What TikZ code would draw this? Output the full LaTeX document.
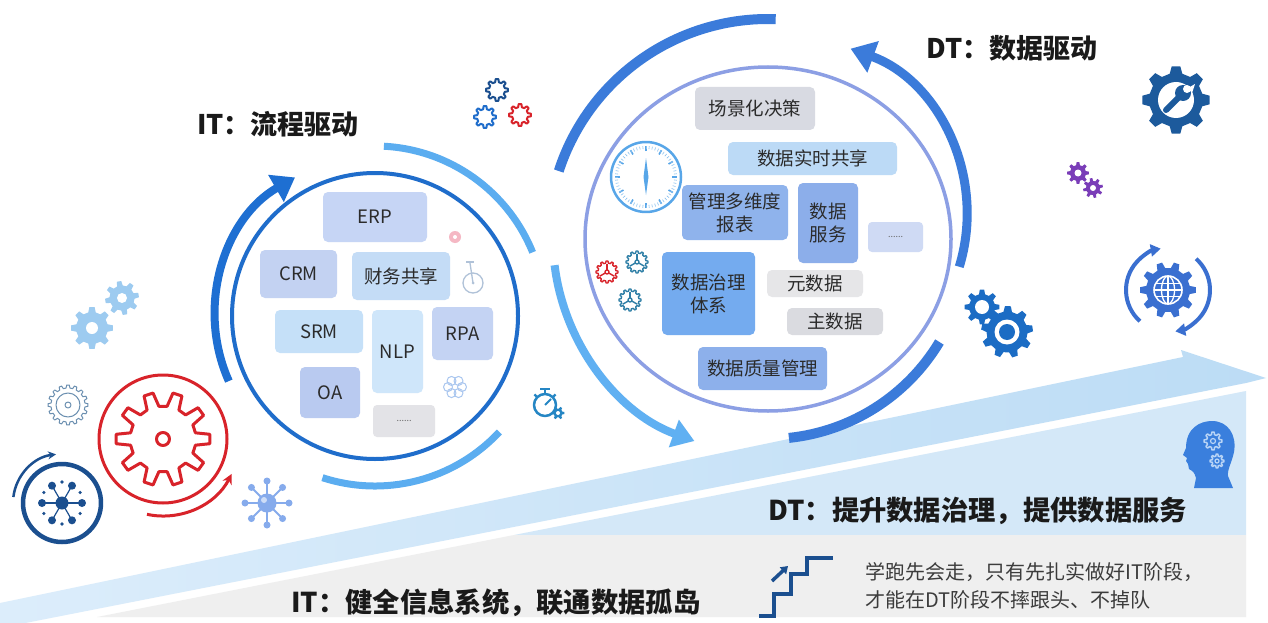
\documentclass[tikz,border=0pt]{standalone}
\usepackage{fontspec}
\newfontfamily\cjk{Noto Sans CJK SC}
\usetikzlibrary{arrows.meta}

\definecolor{bandleft}{HTML}{DCEDFB}
\definecolor{bandright}{HTML}{BCDCF5}
\definecolor{dtpanel}{HTML}{D4E8F8}
\definecolor{panelgray}{HTML}{EFEFEF}
\definecolor{itring}{HTML}{1F6DCB}
\definecolor{itarrow}{HTML}{1E6FD2}
\definecolor{itlight}{HTML}{5BADF0}
\definecolor{dtring}{HTML}{8C9FE4}
\definecolor{dtarc}{HTML}{3B7BDA}
\definecolor{dtlight}{HTML}{60B0F2}
\definecolor{txt}{HTML}{1A1A1A}
\definecolor{boxtxt}{HTML}{2B2B2B}
\definecolor{notetxt}{HTML}{3C3C3C}
\definecolor{gearred}{HTML}{D8232A}
\definecolor{navy}{HTML}{1B4F8F}
\definecolor{steelgray}{HTML}{6B8FB0}
\definecolor{paleblue}{HTML}{9DCBF0}
\definecolor{netblue}{HTML}{86ABEC}
\definecolor{purplegear}{HTML}{7A3DB8}
\definecolor{wrenchnavy}{HTML}{1C5A9C}
\definecolor{globeblue}{HTML}{3A6FD0}
\definecolor{gearblue}{HTML}{1B6CC4}
\definecolor{headblue}{HTML}{3A7FDD}
\definecolor{headgear}{HTML}{B8D4F6}
\definecolor{clockblue}{HTML}{58A6E8}
\definecolor{tealgear}{HTML}{2F7FA6}
\definecolor{watchteal}{HTML}{2586C4}
\definecolor{pinkdot}{HTML}{F5B8C4}
\definecolor{iconpale}{HTML}{A9C6EF}
\definecolor{unigray}{HTML}{B0C2D8}
% box fills
\definecolor{bErp}{HTML}{C6D5F5}
\definecolor{bCrm}{HTML}{C3D2F2}
\definecolor{bFin}{HTML}{C4DCF6}
\definecolor{bSrm}{HTML}{C5E0F8}
\definecolor{bNlp}{HTML}{CFE6FA}
\definecolor{bRpa}{HTML}{C4D3F3}
\definecolor{bOa}{HTML}{B9CAF0}
\definecolor{bMore}{HTML}{E3E3E7}
\definecolor{bScene}{HTML}{D8DAE2}
\definecolor{bShare}{HTML}{BCDAF6}
\definecolor{bReport}{HTML}{8FB3EC}
\definecolor{bService}{HTML}{8CAEEA}
\definecolor{bMoreR}{HTML}{CFDAF4}
\definecolor{bGov}{HTML}{74ABEF}
\definecolor{bMeta}{HTML}{E6E6E8}
\definecolor{bMaster}{HTML}{DADBE0}
\definecolor{bQuality}{HTML}{8DB0EB}

\tikzset{
  % gear outline: teeth, root radius, tip radius
  pics/gear/.style n args={3}{code={
    \pgfmathsetmacro\gp{360/#1}
    \path[pic actions] ({-0.3*\gp}:#2)
      \foreach \k in {1,...,#1}{
        -- ({(\k-1)*\gp-0.3*\gp}:#2) -- ({(\k-1)*\gp-0.16*\gp}:#3)
        -- ({(\k-1)*\gp+0.16*\gp}:#3) -- ({(\k-1)*\gp+0.3*\gp}:#2)
      } -- cycle;
  }},
  box/.style={rounded corners=5pt, inner sep=0pt, text=boxtxt,
    font=\cjk\fontsize{18.5}{23}\selectfont, align=center},
  dots/.style={rounded corners=4pt, inner sep=0pt, text=black!60,
    font=\cjk\fontsize{9}{10}\selectfont},
  title/.style={inner sep=0pt, text=txt, font=\cjk\bfseries\fontsize{27}{30}\selectfont},
  banner/.style={inner sep=0pt, text=txt, font=\cjk\bfseries\fontsize{27.3}{30}\selectfont},
  note/.style={inner sep=0pt, text=notetxt, align=left, font=\cjk\fontsize{20}{28}\selectfont},
}

\begin{document}
\begin{tikzpicture}[x=1pt,y=1pt,line join=round]
\useasboundingbox (0,0) rectangle (1268,-623);
\fill[white] (0,0) rectangle (1268,-623);

% ---------- lower panels and rising band ----------
\fill[dtpanel] (514,-535) -- (1246,-391) -- (1246,-535) -- cycle;
\fill[panelgray] (514,-535) -- (1246,-535) -- (1246,-617) -- (97,-617) -- cycle;
\begin{scope}
  \clip (0,0) rectangle (1268,-623);
  \shade[left color=bandleft, right color=bandright]
     (0,-603) -- (1183,-357) -- (1181,-350) -- (1266,-378)
     -- (1246,-383) -- (0,-628) -- cycle;
\end{scope}

% ---------- IT cycle ----------
\coordinate (itc) at (375,-316);
\draw[itring, line width=4pt] (itc) circle (143);
\draw[itarrow, line width=8pt, -{Triangle[length=22pt,width=30pt]}]
  (itc) ++(204:160) arc[start angle=204, end angle=120, radius=160];
\draw[itlight, line width=7pt] (itc) ++(87:170) arc[start angle=87, end angle=22, radius=170];
\draw[itlight, line width=7pt] (itc) ++(252:170) arc[start angle=252, end angle=317, radius=170];

\node[box, fill=bErp, minimum width=104pt, minimum height=50pt] (erp) at (375,-217) {ERP};
\node[box, fill=bCrm, minimum width=77pt, minimum height=48pt] (crm) at (298.5,-274) {CRM};
\node[box, fill=bFin, minimum width=98pt, minimum height=48pt] (fin) at (401,-276) {财务共享};
\node[box, fill=bSrm, minimum width=88pt, minimum height=43pt] (srm) at (319,-331.5) {SRM};
\node[box, fill=bNlp, minimum width=51pt, minimum height=83pt] (nlp) at (397.5,-351.5) {NLP};
\node[box, fill=bRpa, minimum width=61pt, minimum height=53pt] (rpa) at (462.5,-333.5) {RPA};
\node[box, fill=bOa, minimum width=60pt, minimum height=51pt] (oa) at (330,-392.5) {OA};
\node[dots, fill=bMore, minimum width=62pt, minimum height=32pt] (itmore) at (404,-421) {......};

% small icons inside the IT ring
\fill[pinkdot] (455,-237) circle (6);
\fill[white] (455,-237) circle (2);
\draw[unigray, line width=1.3pt] (473,-283) circle (10);
\draw[unigray, line width=1.3pt] (470,-263) -- (473,-283);
\draw[unigray, line width=1.3pt] (466,-262) -- (474,-262);
\fill[unigray] (473,-283) circle (1.5);
\foreach \a in {0,60,...,300}
  \draw[iconpale, line width=1pt] (455,-387) ++(\a:7) circle (4.5);

% stopwatch with gear
\draw[watchteal, line width=2.5pt] (545,-405) circle (11);
\draw[watchteal, line width=2.5pt] (545,-394) -- (545,-390);
\draw[watchteal, line width=2.5pt] (540,-389) -- (550,-389);
\draw[watchteal, line width=2.2pt] (545,-405) ++(135:11) -- ++(135:4);
\draw[watchteal, line width=2.2pt] (545,-405) ++(45:11) -- ++(45:4);
\draw[watchteal, line width=2pt] (545,-405) -- (551,-399);
\pic[fill=watchteal] at (558,-413) {gear={6}{4.5}{6.5}};
\fill[white] (558,-413) circle (2);

% ---------- DT cycle ----------
\coordinate (dtc) at (768,-239);
\draw[dtring, line width=3.5pt] (dtc) ellipse [x radius=183, y radius=172];
\draw[dtarc, line width=10pt] (dtc) ++(162:220) arc[start angle=162, end angle=88, radius=220];
\coordinate (dtrc) at (790,-215);
\draw[dtarc, line width=9pt, -{Triangle[length=24pt,width=32pt]}]
  (dtrc) ++(-17:177) arc[start angle=-17, end angle=70, radius=177];
\draw[dtarc, line width=10pt] (dtc) ++(-84:200) arc[start angle=-84, end angle=-31, radius=200];
\draw[dtlight, line width=8pt, -{Triangle[length=22pt,width=28pt]}]
  (dtc) ++(187:215) arc[start angle=187, end angle=250, radius=215];

\node[box, fill=bScene, minimum width=120pt, minimum height=43pt] (scene) at (755,-108.5) {场景化决策};
\node[box, fill=bShare, minimum width=169pt, minimum height=33pt] (share) at (812.5,-158.5) {数据实时共享};
\node[box, fill=bReport, minimum width=106pt, minimum height=55pt] (report) at (735,-212.5) {管理多维度\\报表};
\node[box, fill=bService, minimum width=60pt, minimum height=80pt] (service) at (828,-223) {数据\\服务};
\node[dots, fill=bMoreR, minimum width=55pt, minimum height=30pt] (dtmore) at (895.5,-237) {......};
\node[box, fill=bGov, minimum width=93pt, minimum height=83pt] (gov) at (708.5,-293.5) {数据治理\\体系};
\node[box, fill=bMeta, minimum width=96pt, minimum height=27pt] (meta) at (815,-283.5) {元数据};
\node[box, fill=bMaster, minimum width=96pt, minimum height=27pt] (master) at (835,-321.5) {主数据};
\node[box, fill=bQuality, minimum width=129pt, minimum height=43pt] (quality) at (762.5,-368.5) {数据质量管理};

% clock
\draw[clockblue, line width=2.5pt] (646,-177) circle (35);
\foreach \a in {0,30,...,330}
  \draw[clockblue, line width=1.6pt] (646,-177) ++(\a:26) -- ++(\a:5);
\foreach \a in {6,12,...,354}
  \draw[clockblue!70, line width=0.6pt] (646,-177) ++(\a:28) -- ++(\a:3);
\fill[clockblue] (646,-158) -- (648.5,-177) -- (646,-195) -- (643.5,-177) -- cycle;

% three small wheels
\foreach \gx/\gy/\gc in {607/-272/gearred, 637/-262/tealgear, 630/-300/tealgear}{
  \pic[draw=\gc, line width=1.4pt] at (\gx,\gy) {gear={12}{9}{11}};
  \draw[\gc, line width=1.4pt] (\gx,\gy) circle (2);
  \foreach \a in {90,210,330}
    \draw[\gc, line width=1.4pt] (\gx,\gy) ++(\a:2) -- ++(\a:6.5);
}

% ---------- left icons ----------
% red gear in ring
\draw[gearred, line width=3pt] (163,-439) circle (64);
\pic[draw=gearred, line width=3pt] at (163,-439) {gear={10}{33}{47}};
\draw[gearred, line width=3pt] (163,-439) circle (6.5);
\draw[gearred, line width=3pt, -{Stealth[length=10pt,width=10pt]}]
  (163,-439) ++(258:77) arc[start angle=258, end angle=333, radius=77];

% small grey gear
\pic[draw=steelgray, line width=1pt] at (68,-405) {gear={16}{17}{20}};
\draw[steelgray, line width=1pt] (68,-405) circle (12);
\draw[steelgray, line width=1pt] (68,-405) circle (3);

% network in navy ring
\coordinate (netc) at (62,-503);
\draw[navy, line width=4.5pt] (netc) circle (39);
\draw[navy, line width=2.5pt, -{Stealth[length=8pt,width=8pt]}]
  (netc) ++(173:49) arc[start angle=173, end angle=97, radius=49];
\foreach \a in {0,60,...,300}{
  \draw[navy, line width=1.2pt] (netc) -- ++(\a:20);
  \fill[navy] (netc) ++(\a:20) circle (4);
}
\foreach \a in {30,90,...,330}
  \fill[navy] (netc) ++(\a:21) circle (1.8);
\fill[navy] (netc) circle (6.5);

% pale network icon
\coordinate (pnet) at (267,-503);
\foreach \a in {0,45,...,315}{
  \draw[netblue, line width=1.8pt] (pnet) -- ++(\a:22);
  \fill[netblue] (pnet) ++(\a:22) circle (3.5);
}
\fill[netblue] (pnet) circle (9.5);
\fill[white, opacity=0.6] (pnet) ++(-3,3) circle (3);

% pale gear pair
\pic[fill=paleblue] at (92,-328) {gear={8}{16}{21}};
\fill[white] (92,-328) circle (6);
\pic[fill=paleblue, rotate=10] at (122,-298) {gear={8}{12.5}{17}};
\fill[white] (122,-298) circle (5);

% three outlined gears above the IT ring
\pic[draw=navy, line width=2pt] at (497,-90) {gear={8}{8}{11}};
\pic[draw=itring, line width=2pt] at (485,-117) {gear={8}{8}{11}};
\pic[draw=gearred, line width=2pt] at (520,-115) {gear={8}{8}{11}};

% ---------- right icons ----------
% gear with wrench
\pic[fill=wrenchnavy] at (1176,-100) {gear={8}{27}{34}};
\fill[white] (1176,-100) circle (18);
\draw[wrenchnavy, line width=6pt, line cap=round] (1166,-110) -- (1181,-95);
\fill[wrenchnavy] (1183,-93) circle (8);
\fill[white] (1187,-89) circle (4);
\fill[white] (1188,-88) -- (1195,-84) -- (1192,-93) -- cycle;

% purple gears
\pic[fill=purplegear] at (1078,-173) {gear={8}{8}{11}};
\fill[white] (1078,-173) circle (3.5);
\pic[fill=purplegear, rotate=12] at (1093,-188) {gear={8}{7}{10}};
\fill[white] (1093,-188) circle (3);

% globe gear with cycling arrows
\coordinate (glc) at (1168,-290);
\draw[globeblue, line width=4pt, -{Triangle[length=10pt,width=12pt]}]
  (glc) ++(228:42) arc[start angle=228, end angle=100, radius=42];
\draw[globeblue, line width=4pt, -{Triangle[length=10pt,width=12pt]}]
  (glc) ++(48:42) arc[start angle=48, end angle=-80, radius=42];
\pic[fill=globeblue] at (glc) {gear={10}{22}{28}};
\begin{scope}[shift={(glc)}]
  \draw[white, line width=1.6pt] (0,0) circle (14);
  \draw[white, line width=1.3pt] (0,0) ellipse [x radius=6.5, y radius=14];
  \draw[white, line width=1.3pt] (0,14) -- (0,-14);
  \draw[white, line width=1.3pt] (-14,0) -- (14,0);
  \draw[white, line width=1.1pt] (-12,6.5) -- (12,6.5);
  \draw[white, line width=1.1pt] (-12,-6.5) -- (12,-6.5);
\end{scope}

% blue gear pair
\pic[fill=gearblue] at (982,-307) {gear={8}{13}{17.5}};
\fill[white] (982,-307) circle (7);
\pic[fill=gearblue, rotate=8] at (1007,-332) {gear={9}{20.5}{26}};
\fill[white] (1007,-332) circle (12.5);
\fill[gearblue] (1007,-332) circle (8);

% thinking head
\fill[headblue] (1194,-488) -- (1196,-478) .. controls (1194,-472) .. (1189,-469)
  -- (1188,-464) -- (1186,-461) -- (1187,-458) -- (1183,-455) -- (1186,-448)
  .. controls (1186,-428) and (1200,-421) .. (1212,-421)
  .. controls (1228,-421) and (1237,-435) .. (1234,-452)
  .. controls (1232,-462) and (1227,-470) .. (1228,-476) -- (1233,-488) -- cycle;
\pic[draw=headgear, line width=1.5pt] at (1213,-441) {gear={8}{6.5}{9}};
\draw[headgear, line width=1.2pt] (1213,-441) circle (2.5);
\pic[draw=headgear, line width=1.5pt] at (1217,-461) {gear={8}{5}{7}};
\draw[headgear, line width=1.2pt] (1217,-461) circle (2);

% staircase
\draw[navy, line width=4pt, line join=miter] (759,-616) -- (774,-616) -- (774,-594)
  -- (791,-594) -- (791,-574) -- (807,-574) -- (807,-558) -- (833,-558);
\draw[navy, line width=3.5pt, -{Triangle[length=7pt,width=9pt]}] (772,-581) -- (788,-566);

% ---------- texts ----------
\node[title, anchor=west] (ttlit) at (197,-124) {IT：流程驱动};
\node[title, anchor=west] (ttldt) at (926,-48) {DT：数据驱动};
\node[banner, anchor=west] (bandt) at (768,-511) {DT：提升数据治理，提供数据服务};
\node[banner, anchor=west] (banit) at (291,-603) {IT：健全信息系统，联通数据孤岛};
\node[note, anchor=north west] (note) at (865,-562)
  {学跑先会走，只有先扎实做好IT阶段，\\才能在DT阶段不摔跟头、不掉队};
\end{tikzpicture}
\end{document}
